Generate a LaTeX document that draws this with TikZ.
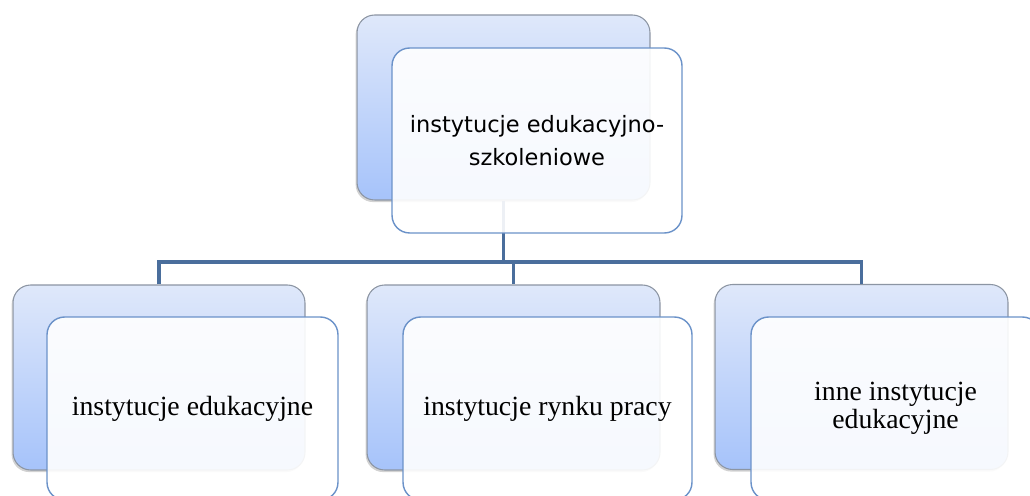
\documentclass[tikz,border=0pt]{standalone}
\usepackage{fontspec}
\setmainfont{Liberation Serif}
\newfontfamily\topfont{DejaVu Sans}
\usetikzlibrary{shadows}
\definecolor{backtop}{HTML}{DFE8FA}
\definecolor{backbot}{HTML}{A6C3FA}
\definecolor{backedge}{HTML}{8C95A3}
\definecolor{frontedge}{HTML}{6B92C9}
\definecolor{linkcol}{HTML}{4A6E9C}
\tikzset{
  backbox/.style={rounded corners=10pt, draw=backedge, line width=0.6pt,
    top color=backtop, bottom color=backbot, inner sep=0pt,
    drop shadow={shadow xshift=-0.8pt, shadow yshift=-1.2pt, opacity=0.35}},
  frontbox/.style={rounded corners=10pt, draw=frontedge, line width=0.8pt,
    fill=white, fill opacity=0.9, text opacity=1, inner sep=0pt, align=center},
  link/.style={draw=linkcol, line width=1.8pt},
  toptext/.style={font=\topfont\fontsize{12.8pt}{18.7pt}\selectfont},
  bottext/.style={font=\fontsize{15.8pt}{15.9pt}\selectfont}
}
\begin{document}
\begin{tikzpicture}[x=0.02cm,y=-0.02cm]
\clip (0,0) rectangle (1030,496);
\fill[white] (0,0) rectangle (1030,496);
% back boxes
\node[backbox, minimum width=5.86cm, minimum height=3.7cm] (tb) at (503.5,107.5) {};
\node[backbox, minimum width=5.84cm, minimum height=3.7cm] (lb) at (159,377.5) {};
\node[backbox, minimum width=5.86cm, minimum height=3.7cm] (mb) at (513.5,377.5) {};
\node[backbox, minimum width=5.86cm, minimum height=3.7cm] (rb) at (861.5,377) {};
% connectors
\coordinate (j) at (503.5,262);
\draw[link] (tb.south) -- (j);
\draw[link] (lb.north) |- (j);
\draw[link] (j) -| (mb.north);
\draw[link] (j) -| (rb.north);
% front boxes
\node[frontbox, toptext, minimum width=5.8cm, minimum height=3.7cm] (tf) at (537,140.5)
  {instytucje edukacyjno-\\szkoleniowe};
\node[frontbox, bottext, minimum width=5.82cm, minimum height=3.66cm] (lf) at (192.5,408.5)
  {instytucje edukacyjne};
\node[frontbox, bottext, minimum width=5.78cm, minimum height=3.66cm] (mf) at (547.5,408.5)
  {instytucje rynku pracy};
\node[frontbox, bottext, minimum width=5.78cm, minimum height=3.66cm] (rf) at (895.5,408.5)
  {inne instytucje\\edukacyjne};
\end{tikzpicture}
\end{document}
